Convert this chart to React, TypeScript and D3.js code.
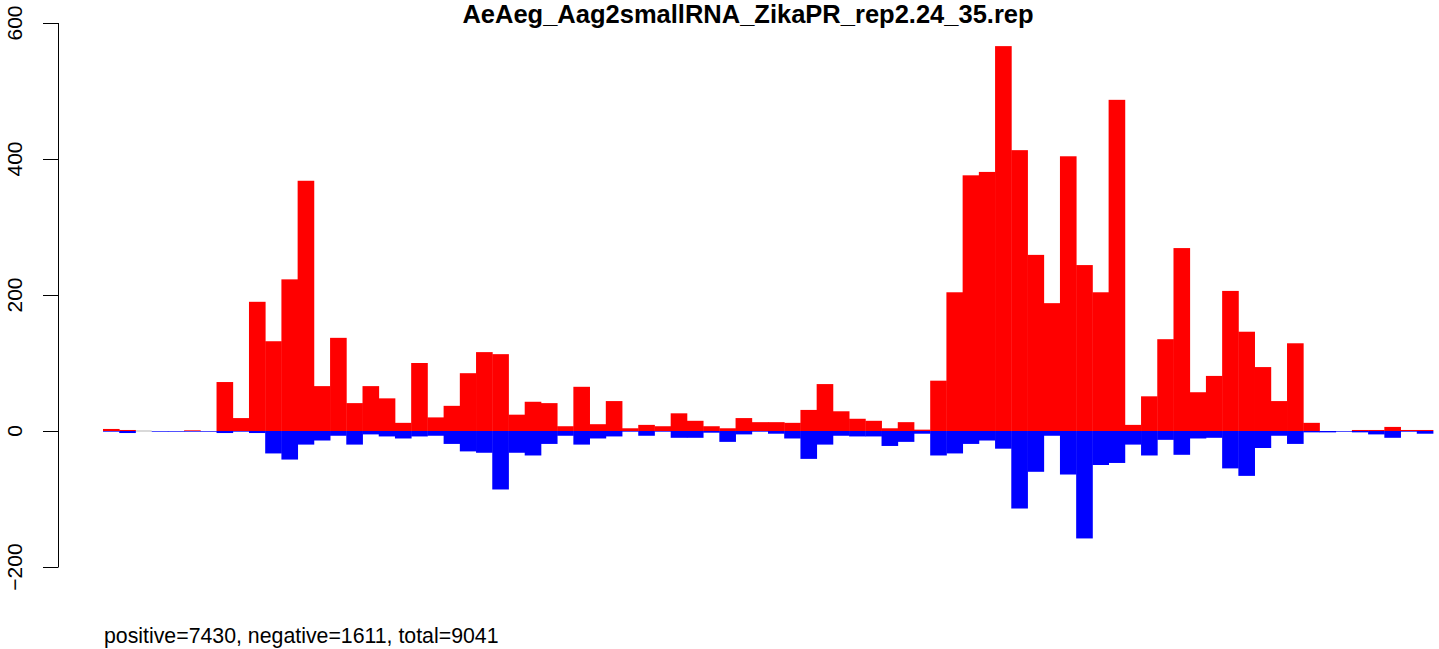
import React from "react";
import * as d3 from "d3";

const title = "AeAeg_Aag2smallRNA_ZikaPR_rep2.24_35.rep";
const footer = "positive=7430, negative=1611, total=9041";
const yTicks = [-200, 0, 200, 400, 600];

const positive = [
  3, 1.5, 0, 0, 0, 1, 0, 72, 19, 190, 132, 223, 368, 66, 137, 41, 66, 48, 12, 100,
  20, 37, 85, 116, 113, 24, 43, 41, 7, 65, 10, 44, 4, 9, 7, 26, 15, 7, 4, 19,
  13, 13, 12, 31, 69, 29, 18, 15, 4, 13, 2, 74, 204, 376, 381, 566, 413, 259, 188, 404,
  244, 204, 487, 9, 51, 135, 269, 57, 81, 206, 146, 94, 44, 129, 12, 0, 0, 1.5, 1.5, 6,
  1.5, 1.5,
];
const negative = [
  1, 3, 0, 1, 1, 1, 1, 3, 1, 3, 33, 42, 20, 14, 7, 20, 5, 8, 11, 8,
  7, 19, 30, 32, 86, 32, 36, 19, 7, 20, 11, 8, 1, 7, 1, 10, 10, 2.5, 16, 5,
  1, 4, 11, 41, 20, 7, 8, 8, 22, 16, 4, 36, 33, 19, 14, 26, 114, 60, 7, 64,
  158, 50, 47, 20, 36, 13, 35, 11, 10, 55, 66, 25, 7, 19, 2, 2, 1, 2, 5, 10,
  1, 4,
];

export default function App() {
  const W = 1439, H = 649;
  const idx = positive.map((_, i) => i);
  const x = d3.scaleBand<number>().domain(idx).range([103, 1433]).padding(0);
  const y = d3.scaleLinear().domain([-200, 600]).range([567, 23]);
  const font = "'Liberation Sans', Arial, Helvetica, sans-serif";
  const y0 = y(0);
  return (
    <svg width={W} height={H} style={{ position: "fixed", left: 0, top: 0, background: "#fff" }}>
      <rect x={0} y={0} width={W} height={H} fill="#fff" />
      {idx.map((i) =>
        positive[i] === 0 && negative[i] === 0 ? (
          <line key={"z" + i} x1={x(i)!} x2={x(i)! + x.bandwidth()} y1={y0} y2={y0} stroke="#b3b3b3" strokeWidth={1} />
        ) : null
      )}
      {idx.map((i) => (
        <rect key={"p" + i} x={x(i)!} width={x.bandwidth() + 0.4} y={y(positive[i])} height={y0 - y(positive[i])} fill="#ff0000" />
      ))}
      {idx.map((i) => (
        <rect key={"n" + i} x={x(i)!} width={x.bandwidth() + 0.4} y={y0} height={y(-negative[i]) - y0} fill="#0000ff" />
      ))}
      <g>
        <line x1={58.5} x2={58.5} y1={y(-200)} y2={y(600)} stroke="#000" strokeWidth={1} />
        {yTicks.map((t) => (
          <g key={t}>
            <line x1={43} x2={58.5} y1={Math.round(y(t)) + 0.5} y2={Math.round(y(t)) + 0.5} stroke="#000" strokeWidth={1} />
            <text
              transform={`translate(${22},${y(t)}) rotate(-90)`}
              textAnchor="middle"
              fontFamily={font}
              fontSize={21}
              fill="#000"
            >
              {t === -200 ? "\u2212200" : String(t)}
            </text>
          </g>
        ))}
      </g>
      <text x={748} y={23} textAnchor="middle" fontFamily={font} fontSize={25.5} fontWeight="bold" fill="#000">
        {title}
      </text>
      <text x={104} y={643} fontFamily={font} fontSize={21.3} fill="#000">
        {footer}
      </text>
    </svg>
  );
}
